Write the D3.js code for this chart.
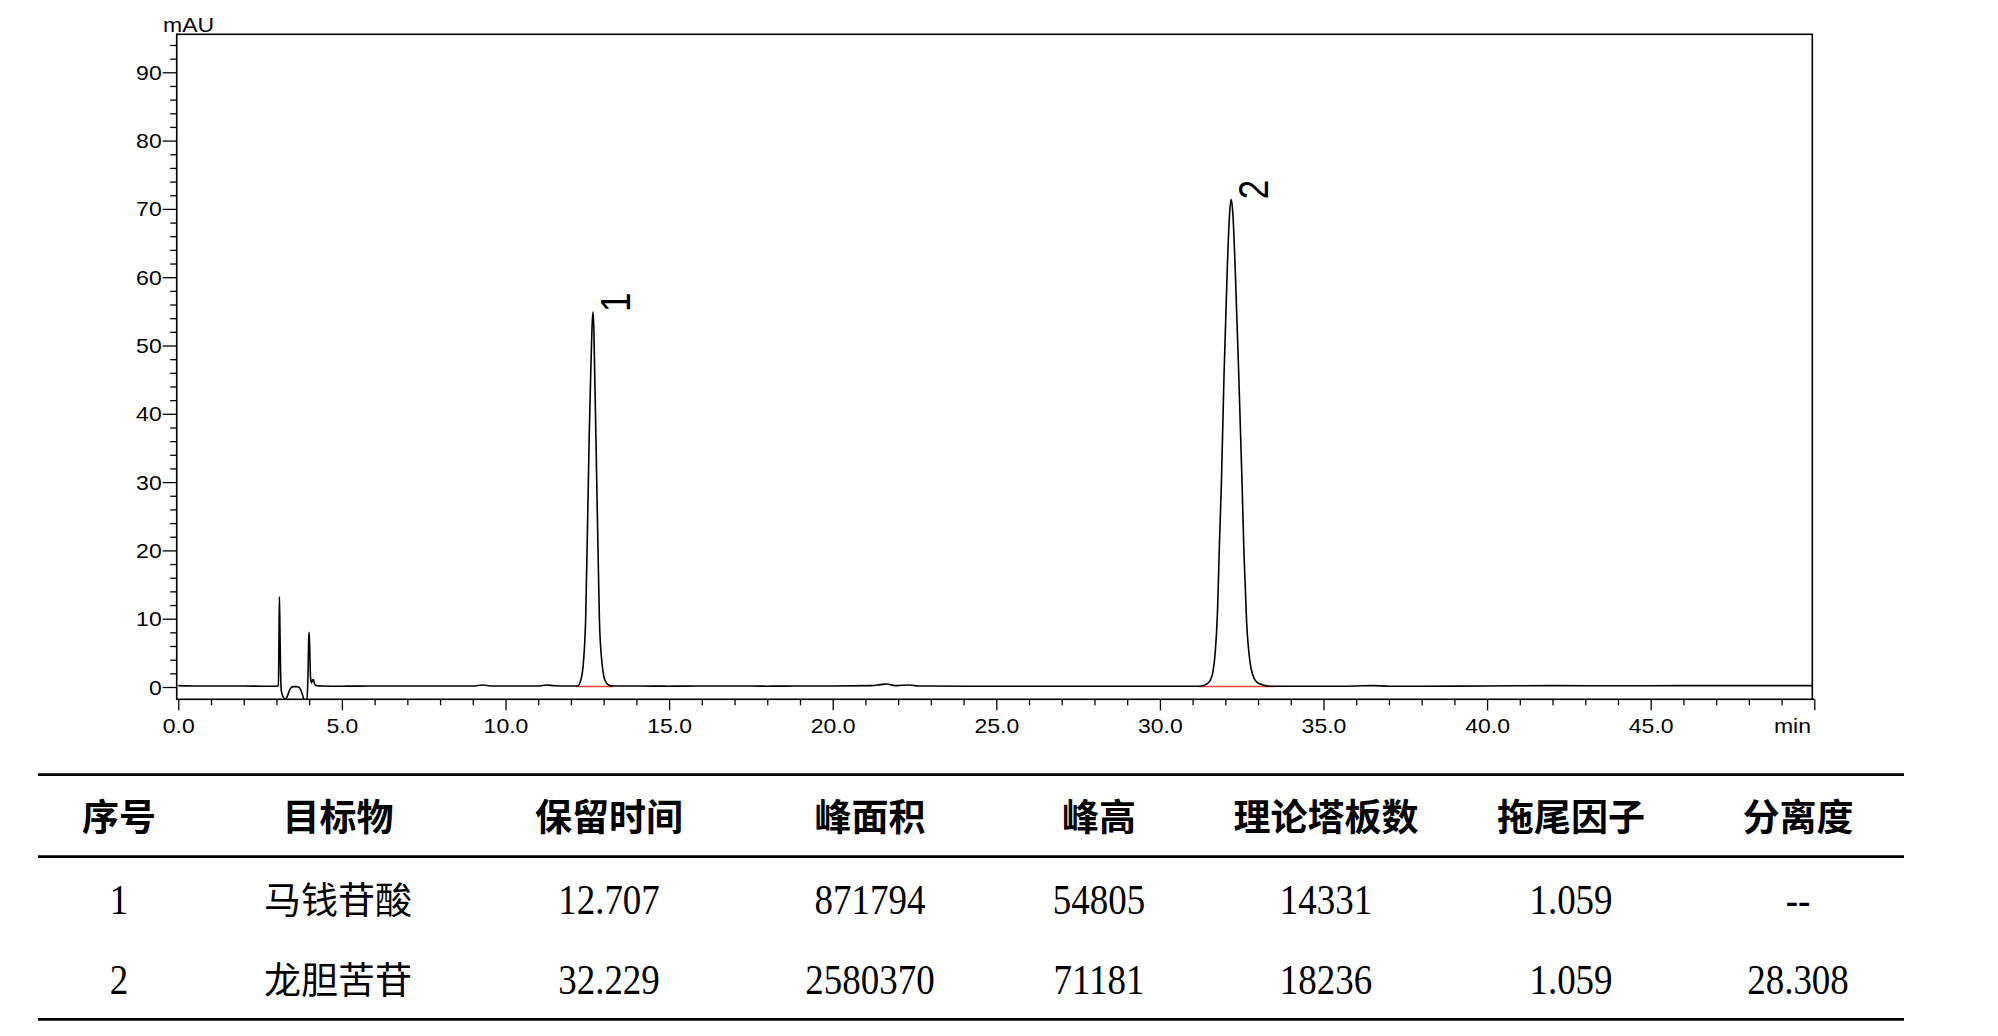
<!DOCTYPE html>
<html>
<head>
<meta charset="utf-8">
<script src="https://cdn.jsdelivr.net/npm/d3@7"></script>
<style>
  body { margin: 0; background: #fff; }
</style>
</head>
<body>
<div id="chart"></div>
<script>
// chromatogram trace (min, mAU)
const traceTime = [
  0.0, 0.5, 1.0, 2.0, 2.6, 3.0, 3.06, 3.075, 3.09, 3.105, 3.125, 3.15, 3.2, 3.26, 3.32, 3.38, 3.45,
  3.52, 3.6, 3.68, 3.74, 3.8, 3.86, 3.93, 3.965, 3.985, 4.0, 4.02, 4.04, 4.07, 4.1, 4.13, 4.16,
  4.22, 4.4, 5.0, 6.0, 7.0, 8.0, 9.0, 9.3, 9.6, 10.5, 11.0, 11.26, 11.5, 12.0,
  12.2, 12.3, 12.38, 12.45, 12.52, 12.56, 12.6, 12.64, 12.67, 12.7, 12.73, 12.77, 12.8, 12.84,
  12.87, 12.93, 13.04, 13.15, 13.3,
  14, 15, 16, 17, 18, 19, 20, 21.2, 21.45, 21.65, 21.9, 22.1, 22.36, 22.6, 24, 26, 28, 30, 31.0,
  31.23, 31.4, 31.53, 31.62, 31.69, 31.76, 31.82, 31.88, 31.96, 32.06, 32.13, 32.18, 32.23, 32.3,
  32.41, 32.51, 32.57, 32.65, 32.75, 32.85, 32.96, 33.15, 33.37,
  34, 35, 36, 36.5, 37, 38, 40, 42, 44, 46, 48, 49, 50
];
const traceSignal = [
  0.2, 0.15, 0.15, 0.15, 0.12, 0.12, 0.2, 6, 13.2, 9, 2.5, -0.6, -1.4, -1.75, -1.5, -0.7, -0.1,
  0.05, 0.05, 0, -0.4, -1.2, -2.0, -2.0, 2, 7, 8.0, 5, 1.5, 0.6, 1.0, 1.1, 0.5,
  0.2, 0.15, 0.12, 0.15, 0.15, 0.15, 0.15, 0.3, 0.15, 0.15, 0.15, 0.3, 0.18, 0.15,
  0.15, 1.0, 3.5, 10, 27, 37, 45, 52, 54.9, 52.5, 45, 35, 27, 17,
  10, 4.5, 1.0, 0.3, 0.15,
  0.15, 0.12, 0.15, 0.15, 0.12, 0.15, 0.15, 0.2, 0.35, 0.45, 0.2, 0.25, 0.3, 0.15, 0.12, 0.1, 0.1, 0.1, 0.1,
  0.12, 0.35, 0.9, 2.2, 5, 11, 21, 30, 45.7, 61.4, 69.3, 71.4, 69.3, 61.4,
  45.7, 30, 19.5, 9.5, 3.8, 1.6, 0.7, 0.3, 0.12,
  0.1, 0.1, 0.15, 0.2, 0.12, 0.12, 0.15, 0.2, 0.18, 0.2, 0.2, 0.2, 0.2
];

// integration baselines (red) under the two peaks
const baseStart = [12.15, 31.17];
const baseEnd = [13.29, 33.52];
const baseLevel = [0.08, 0.08];

// peak labels
const peakLabels = ["1", "2"];
const peakApexTime = [12.67, 32.18];
const peakApexHeight = [54.9, 71.4];

// axis ticks
const xMajorTicks = [0, 5, 10, 15, 20, 25, 30, 35, 40, 45, 50];
const xLabelTicks = [0, 5, 10, 15, 20, 25, 30, 35, 40, 45];
const xMinorTicks = [1, 2, 3, 4, 6, 7, 8, 9, 11, 12, 13, 14, 16, 17, 18, 19, 21, 22, 23, 24,
  26, 27, 28, 29, 31, 32, 33, 34, 36, 37, 38, 39, 41, 42, 43, 44, 46, 47, 48, 49];
const yMajorTicks = [0, 10, 20, 30, 40, 50, 60, 70, 80, 90];
const yMinorTicks = [2, 4, 6, 8, 12, 14, 16, 18, 22, 24, 26, 28, 32, 34, 36, 38, 42, 44, 46, 48,
  52, 54, 56, 58, 62, 64, 66, 68, 72, 74, 76, 78, 82, 84, 86, 88, 92, 94];

// results table
const tableHeaders = ["序号", "目标物", "保留时间", "峰面积", "峰高", "理论塔板数", "拖尾因子", "分离度"];
const peakNumbers = ["1", "2"];
const compounds = ["马钱苷酸", "龙胆苦苷"];
const retentionTimes = ["12.707", "32.229"];
const peakAreas = ["871794", "2580370"];
const peakHeights = ["54805", "71181"];
const plateCounts = ["14331", "18236"];
const tailingFactors = ["1.059", "1.059"];
const resolutions = ["--", "28.308"];

(function() {
    const width = 1998;
    const height = 1036;

    const svg = d3.select("#chart")
        .append("svg")
        .attr("width", width)
        .attr("height", height)
        .attr("viewBox", [0, 0, width, height])
        .style("background", "#fff");

    // plot frame
    const frame = { left: 176.7, right: 1812.3, top: 34.3, bottom: 699.3 };

    const x = d3.scaleLinear().domain([0, 50]).range([178.3, 1814.3]);
    const y = d3.scaleLinear().domain([0, 90]).range([687, 72.3]);

    const sansFont = "'Liberation Sans', Arial, sans-serif";
    const labelScale = "scale(1.15,1)";

    svg.append("defs").append("clipPath")
        .attr("id", "plot-clip")
        .append("rect")
        .attr("x", frame.left)
        .attr("y", frame.top)
        .attr("width", frame.right - frame.left)
        .attr("height", frame.bottom - frame.top);

    // y axis
    const yMinor = svg.append("g")
        .attr("transform", `translate(${frame.left},0)`)
        .call(d3.axisLeft(y).tickValues(yMinorTicks).tickSize(6.5).tickFormat(""));
    const yMajor = svg.append("g")
        .attr("transform", `translate(${frame.left},0)`)
        .call(d3.axisLeft(y).tickValues(yMajorTicks).tickSize(14).tickFormat(d3.format("d")));

    // x axis
    const xMinor = svg.append("g")
        .attr("transform", `translate(0,${frame.bottom})`)
        .call(d3.axisBottom(x).tickValues(xMinorTicks).tickSize(6).tickFormat(""));
    const xMajor = svg.append("g")
        .attr("transform", `translate(0,${frame.bottom})`)
        .call(d3.axisBottom(x).tickValues(xMajorTicks).tickSize(11)
            .tickFormat(d => xLabelTicks.includes(d) ? d3.format(".1f")(d) : ""));

    [yMinor, yMajor, xMinor, xMajor].forEach(g => {
        g.select(".domain").remove();
        g.selectAll(".tick line").attr("stroke", "#000").attr("stroke-width", 1.3);
        g.attr("font-family", sansFont).attr("font-size", 20);
    });

    yMajor.selectAll(".tick text")
        .attr("x", null)
        .attr("dy", "0.35em")
        .attr("fill", "#000")
        .attr("transform", `translate(-15,0) ${labelScale}`);

    xMajor.selectAll(".tick text")
        .attr("y", null)
        .attr("dy", null)
        .attr("fill", "#000")
        .attr("transform", `translate(0,33.4) ${labelScale}`);

    // frame box
    svg.append("rect")
        .attr("x", frame.left)
        .attr("y", frame.top)
        .attr("width", frame.right - frame.left)
        .attr("height", frame.bottom - frame.top)
        .attr("fill", "none")
        .attr("stroke", "#000")
        .attr("stroke-width", 1.6);

    svg.append("line")
        .attr("x1", frame.right)
        .attr("x2", x(50))
        .attr("y1", frame.bottom)
        .attr("y2", frame.bottom)
        .attr("stroke", "#000")
        .attr("stroke-width", 1.6);

    // axis units
    svg.append("text")
        .attr("transform", `translate(163,31.7) ${labelScale}`)
        .attr("font-family", sansFont)
        .attr("font-size", 20)
        .text("mAU");

    svg.append("text")
        .attr("transform", `translate(1811,732.7) ${labelScale}`)
        .attr("text-anchor", "end")
        .attr("font-family", sansFont)
        .attr("font-size", 20)
        .text("min");

    const plot = svg.append("g").attr("clip-path", "url(#plot-clip)");

    // red baselines
    plot.selectAll(".baseline")
        .data(baseStart)
        .join("line")
        .attr("class", "baseline")
        .attr("x1", d => x(d))
        .attr("x2", (d, i) => x(baseEnd[i]))
        .attr("y1", (d, i) => y(baseLevel[i]))
        .attr("y2", (d, i) => y(baseLevel[i]))
        .attr("stroke", "#e8403a")
        .attr("stroke-width", 1.5);

    // trace
    const points = traceTime.map((t, i) => [t, traceSignal[i]]);
    const line = d3.line()
        .x(d => x(d[0]))
        .y(d => y(d[1]))
        .curve(d3.curveMonotoneX);

    plot.append("path")
        .datum(points)
        .attr("fill", "none")
        .attr("stroke", "#000")
        .attr("stroke-width", 1.6)
        .attr("stroke-linejoin", "round")
        .attr("d", line);

    // peak labels, rotated
    svg.selectAll(".peak-label")
        .data(peakLabels)
        .join("text")
        .attr("class", "peak-label")
        .attr("transform", (d, i) =>
            `translate(${x(peakApexTime[i]) + 37},${y(peakApexHeight[i])}) scale(1.2,1) rotate(-90)`)
        .attr("font-family", sansFont)
        .attr("font-size", 35)
        .text(d => d);

    // results table
    const colX = [119, 338, 609, 870, 1099, 1326, 1571, 1798];
    const tableLeft = 38;
    const tableRight = 1904;
    const rowBase = [914, 994];

    [774.7, 856.7, 1019.3].forEach(ly => {
        svg.append("line")
            .attr("x1", tableLeft)
            .attr("x2", tableRight)
            .attr("y1", ly)
            .attr("y2", ly)
            .attr("stroke", "#000")
            .attr("stroke-width", 2.8);
    });

    svg.selectAll(".th")
        .data(tableHeaders)
        .join("text")
        .attr("class", "th")
        .attr("x", (d, i) => colX[i])
        .attr("y", 831)
        .attr("text-anchor", "middle")
        .attr("font-family", "'Noto Sans CJK SC', sans-serif")
        .attr("font-weight", 700)
        .attr("font-size", 37)
        .text(d => d);

    const columns = [peakNumbers, compounds, retentionTimes, peakAreas, peakHeights,
        plateCounts, tailingFactors, resolutions];

    columns.forEach((col, ci) => {
        col.forEach((val, ri) => {
            const t = svg.append("text")
                .attr("text-anchor", "middle")
                .text(val);
            if (ci === 1) {
                t.attr("x", colX[ci])
                    .attr("y", rowBase[ri])
                    .attr("font-family", "'Noto Sans CJK SC', sans-serif")
                    .attr("font-weight", 400)
                    .attr("font-size", 37);
            } else {
                t.attr("transform", `translate(${colX[ci]},${rowBase[ri]}) scale(1,1.12)`)
                    .attr("font-family", "'Liberation Serif', 'Times New Roman', serif")
                    .attr("font-size", 37);
            }
        });
    });
})();
</script>
</body>
</html>
